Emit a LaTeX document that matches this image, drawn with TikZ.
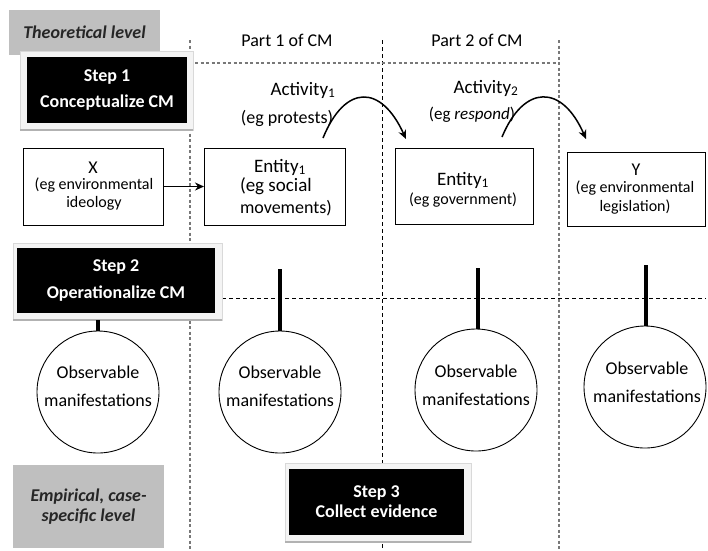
\documentclass[tikz,border=0pt]{standalone}
\usepackage{fontspec}
\setmainfont{Carlito}
\usetikzlibrary{arrows.meta}
\definecolor{lvlgray}{RGB}{191,191,191}
\definecolor{framegray}{RGB}{244,244,244}
\definecolor{dashgray}{RGB}{120,120,120}
\begin{document}
\begin{tikzpicture}[x=1pt,y=-1pt,
  every node/.style={inner sep=0pt, outer sep=0pt},
  fs/.style={font=\fontsize{#1}{#1}\selectfont},
  lvl/.style={fill=lvlgray, text=black!85, align=center, font=\bfseries\itshape\fontsize{18}{20}\selectfont},
  frm/.style={fill=framegray, draw=gray!30, line width=0.6pt},
  shadowline/.style={draw=gray!60, line width=2pt},
  blk/.style={fill=black, text=white, align=center},
  bx/.style={draw=black, line width=1pt, fill=white},
  oval/.style={circle, draw=black, line width=0.9pt, fill=white, minimum size=122pt},
  otext/.style={align=center, font=\fontsize{18}{28}\selectfont},
  blackdash/.style={draw=black, line width=0.9pt, dash pattern=on 4pt off 3pt},
  graydash/.style={draw=dashgray, line width=1.1pt, dash pattern=on 3pt off 2.5pt},
  stem/.style={line width=4pt},
  arr/.style={line width=1.5pt, -{Stealth[length=9pt,width=8pt]}},
]
\useasboundingbox (0,0) rectangle (708,550);

% --- dashed guide lines (coordinates) ---
\coordinate (v1t) at (190,40);  \coordinate (v1b) at (190,550);
\coordinate (v2t) at (382,40);  \coordinate (v2b) at (382,550);
\coordinate (v3t) at (559,40);  \coordinate (v3b) at (559,550);
\coordinate (h1l) at (195,63);  \coordinate (h1r) at (558,63);
\coordinate (h2l) at (222,298); \coordinate (h2r) at (706,298);
\draw[graydash] (v1t) -- (v1b);
\draw[blackdash] (v2t) -- (v2b);
\draw[graydash] (v3t) -- (v3b);
\draw[graydash] (h1l) -- (h1r);
\draw[blackdash] (h2l) -- (h2r);

% --- level labels ---
\node[lvl, minimum width=151pt, minimum height=45pt] (theo) at (84.5,32.5) {Theoretical level};
\node[lvl, minimum width=151pt, minimum height=83pt] (emp) at (88.5,506.5) {Empirical, case-\\specific level};

% --- step boxes ---
\node[frm, minimum width=173pt, minimum height=79pt] (f1) at (106.5,90.5) {};
\draw[shadowline] (f1.south west) -- (f1.south east);
\node[blk, minimum width=160pt, minimum height=66pt, font=\bfseries\fontsize{18}{26}\selectfont] (s1) at (107,90) {Step 1\\Conceptualize CM};

\node[frm, minimum width=209pt, minimum height=77pt] (f2) at (117.5,281.5) {};
\draw[shadowline] (f2.south west) -- (f2.south east);
\node[blk, minimum width=198pt, minimum height=65pt, font=\bfseries\fontsize{18}{27}\selectfont] (s2) at (116,280.5) {Step 2\\Operationalize CM};

\node[frm, minimum width=186pt, minimum height=79pt] (f3) at (378,502.5) {};
\draw[shadowline] (f3.south west) -- (f3.south east);
\node[blk, minimum width=175pt, minimum height=66pt, font=\bfseries\fontsize{18}{20}\selectfont] (s3) at (376.5,502) {Step 3\\Collect evidence};

% --- column headers ---
\node[fs=18] (p1) at (287,40) {Part 1 of CM};
\node[fs=18] (p2) at (477,40) {Part 2 of CM};

% --- activities ---
\node[fs=19] (act1) at (303,90) {Activity\textsubscript{1}};
\node[fs=18] (eg1) at (287,118) {(eg protests)};
\node[fs=19] (act2) at (486,88) {Activity\textsubscript{2}};
\node[fs=17] (eg2) at (472,115) {(eg \textit{respond})};

% --- concept boxes ---
\node[bx, minimum width=140pt, minimum height=77pt] (xb) at (93,186.5) {};
\node[fs=18] (xt1) at (93,168) {X};
\node[fs=16] (xt2) at (94,185) {(eg environmental};
\node[fs=16] (xt3) at (94,203) {ideology};

\node[bx, minimum width=141pt, minimum height=77pt] (e1b) at (274.5,186.5) {};
\node[fs=19] (e1t1) at (280,167) {Entity\textsubscript{1}};
\node[fs=19, anchor=west] (e1t2) at (240,186) {(eg social};
\node[fs=18, anchor=west] (e1t3) at (240,208) {movements)};

\node[bx, minimum width=138pt, minimum height=76pt] (e2b) at (464,186) {};
\node[fs=19] (e2t1) at (463,180) {Entity\textsubscript{1}};
\node[fs=16] (e2t2) at (463,200) {(eg government)};

\node[bx, minimum width=138pt, minimum height=74pt] (yb) at (636,189) {};
\node[fs=18] (yt1) at (636,170) {Y};
\node[fs=16] (yt2) at (635,188) {(eg environmental};
\node[fs=16] (yt3) at (635,207) {legislation)};

% --- arrows ---
\draw[arr] (xb.east) -- (e1b.west);
\coordinate (a1s) at (323,138); \coordinate (a1e) at (406,139);
\coordinate (a2s) at (502,137); \coordinate (a2e) at (586,139);
\draw[arr] (a1s) .. controls (345,84) and (381,84) .. (a1e);
\draw[arr] (a2s) .. controls (524,84) and (562,84) .. (a2e);

% --- observable manifestations ---
\node[oval] (c1) at (98,392) {};
\node[oval] (c2) at (280,392) {};
\node[oval] (c3) at (476,390) {};
\node[oval] (c4) at (645,387) {};
\node[otext] (o1) at (98,386) {Observable\\manifestations};
\node[otext] (o2) at (280,386) {Observable\\manifestations};
\node[otext] (o3) at (476,385.5) {Observable\\manifestations};
\node[otext] (o4) at (647,382.5) {Observable\\manifestations};

\coordinate (t2) at (280,269);
\coordinate (t3) at (478,268);
\coordinate (t4) at (646,265);
\draw[stem] (c1.north |- f2.south) -- (c1.north);
\draw[stem] (t2) -- (c2.north);
\draw[stem] (t3 |- t3) -- (t3 |- c3.north);
\draw[stem] (t4) -- (t4 |- c4.north);
\end{tikzpicture}
\end{document}
